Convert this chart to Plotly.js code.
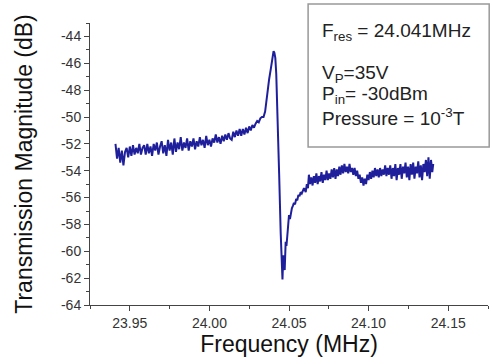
<!DOCTYPE html>
<html>
<head>
<meta charset="utf-8">
<script src="https://cdn.plot.ly/plotly-3.0.1.min.js"></script>
<style>html,body{margin:0;padding:0;background:#fff;}#plot{width:492px;height:364px;}</style>
</head>
<body>
<div id="plot"></div>
<script>
// Left baseline (below resonance)
var freqLeft = [23.941,23.942,23.943,23.944,23.945,23.946,23.947,23.948,23.949,23.950,
  23.951,23.952,23.953,23.954,23.955,23.956,23.957,23.958,23.959,23.960,
  23.961,23.962,23.963,23.964,23.965,23.966,23.967,23.968,23.969,23.970,
  23.971,23.972,23.973,23.974,23.975,23.976,23.977,23.978,23.979,23.980,
  23.981,23.982,23.983,23.984,23.985,23.986,23.987,23.988,23.989,23.990,
  23.991,23.992,23.993,23.994,23.995,23.996,23.997,23.998,23.999,24.000,
  24.001,24.002,24.003,24.004,24.005,24.006,24.007,24.008,24.009,24.010,
  24.011,24.012,24.013,24.014,24.015,24.016,24.017,24.018,24.019,24.020,
  24.021,24.022,24.023,24.024,24.025,24.026,24.027,24.028,24.029,24.030,
  24.031,24.032,24.033];
var magLeft = [-52.0,-53.1,-52.3,-53.4,-52.5,-53.6,-52.6,-52.3,-53.0,-52.2,
  -52.9,-52.1,-52.8,-52.3,-52.7,-52.0,-52.8,-52.3,-52.1,-52.8,
  -52.0,-52.7,-52.2,-52.9,-52.0,-52.5,-51.9,-52.8,-52.2,-51.8,
  -52.7,-52.1,-52.9,-51.7,-52.5,-51.9,-52.8,-51.6,-52.6,-51.9,
  -52.4,-51.5,-52.5,-51.9,-52.3,-51.6,-52.5,-51.8,-52.2,-51.6,
  -52.4,-51.8,-52.2,-51.5,-52.1,-51.7,-52.3,-51.4,-52.1,-51.7,
  -52.2,-51.6,-51.9,-51.3,-51.9,-51.5,-52.0,-51.4,-51.8,-51.3,
  -51.7,-51.2,-51.6,-51.7,-51.1,-51.5,-51.0,-51.4,-50.9,-51.4,
  -50.9,-51.3,-50.8,-51.2,-50.7,-51.0,-50.6,-50.8,-50.5,-50.3,
  -50.4,-50.1,-50.0];
// Resonance region
var freqRes = [24.0340,24.0350,24.0358,24.0365,24.0375,24.0386,24.0396,24.0403,24.0408,24.0414,
  24.0420,24.0427,24.0438,24.0448,24.0456,24.0459,24.0464,24.0469,24.0473,24.0479,
  24.0484,24.0489,24.0495,24.0500,24.0506,24.0511,24.0518,24.0525,24.0531,24.0538,
  24.0545,24.0552,24.0559,24.0566,24.0573,24.0580,24.0587,24.0594];
var magRes = [-50.0,-49.6,-48.8,-47.9,-47.2,-46.4,-45.5,-45.1,-45.2,-45.6,
  -46.8,-49.3,-54.2,-58.7,-61.5,-62.1,-60.3,-61.0,-61.4,-59.3,
  -59.6,-58.9,-58.2,-57.3,-57.6,-57.2,-56.8,-56.6,-56.4,-56.5,
  -56.1,-56.2,-55.8,-55.9,-55.6,-55.7,-55.4,-55.3];
// Right baseline (above resonance)
var freqRight = [24.0605,24.0612,24.0619,24.0625,24.0632,24.0640,24.0648,24.0656,24.0664,24.0672,
  24.0680,24.0688,24.0696,24.0704,24.0712,24.0720,24.0728,24.0736,24.0744,24.0752,
  24.0760,24.0768,24.0776,24.0784,24.0792,24.0800,24.0808,24.0816,24.0824,24.0832,
  24.0840,24.0848,24.0856,24.0864,24.0872,24.0880,24.0888,24.0896,24.0904,24.0912,
  24.0920,24.0928,24.0936,24.0944,24.0952,24.0960,24.0968,24.0976,24.0984,24.0992,
  24.1000,24.1008,24.1016,24.1024,24.1032,24.1040,24.1048,24.1056,24.1064,24.1072,
  24.1080,24.1088,24.1096,24.1104,24.1112,24.1120,24.1128,24.1136,24.1144,24.1152,
  24.1160,24.1168,24.1176,24.1184,24.1192,24.1200,24.1208,24.1216,24.1224,24.1232,
  24.1240,24.1248,24.1256,24.1264,24.1272,24.1280,24.1288,24.1296,24.1304,24.1312,
  24.1320,24.1328,24.1336,24.1344,24.1352,24.1360,24.1368,24.1376,24.1384,24.1392,
  24.1400,24.1406];
var magRight = [-55.6,-55.0,-55.3,-54.3,-55.0,-54.5,-55.1,-54.4,-54.9,-54.2,
  -55.0,-54.4,-54.8,-54.1,-54.9,-54.3,-54.7,-54.0,-54.7,-54.2,
  -54.6,-53.9,-54.5,-53.8,-54.6,-53.9,-54.4,-53.7,-54.3,-53.6,
  -54.2,-53.5,-54.1,-53.7,-54.2,-53.5,-54.1,-53.8,-54.3,-53.8,
  -54.4,-54.0,-54.6,-54.3,-54.9,-54.5,-55.1,-54.6,-55.0,-54.3,
  -54.7,-54.1,-54.6,-54.0,-54.5,-53.8,-54.4,-53.9,-54.5,-53.8,
  -54.4,-53.9,-54.3,-53.6,-54.4,-53.8,-54.3,-53.6,-54.6,-53.8,
  -54.4,-53.5,-54.7,-53.8,-54.3,-53.5,-54.6,-53.7,-54.2,-53.4,
  -54.5,-53.7,-54.7,-53.5,-54.3,-53.4,-54.6,-53.7,-54.2,-53.3,
  -54.5,-53.6,-54.7,-53.5,-54.1,-53.2,-54.4,-53.0,-54.6,-53.2,
  -54.1,-53.5];

var xTickVals = [23.95, 24.00, 24.05, 24.10, 24.15];
var xTickLabels = ['23.95', '24.00', '24.05', '24.10', '24.15'];
var yTickVals = [-64, -62, -60, -58, -56, -54, -52, -50, -48, -46, -44];
var yTickLabels = ['-64', '-62', '-60', '-58', '-56', '-54', '-52', '-50', '-48', '-46', '-44'];
var infoLines = ['F<sub>res</sub> = 24.041MHz', 'V<sub>P</sub>=35V', 'P<sub>in</sub>= -30dBm', 'Pressure = 10<sup>-3</sup>T'];

var freq = freqLeft.concat(freqRes, freqRight);
var mag = magLeft.concat(magRes, magRight);

var FONT = 'Liberation Sans, Arial, Helvetica, sans-serif';

var trace = {
  x: freq, y: mag, type: 'scatter', mode: 'lines',
  line: {color: '#1f1f9c', width: 2}, hoverinfo: 'skip'
};

var infoY = [0.969, 0.820, 0.745, 0.666];
var annotations = infoLines.map(function (t, i) {
  return {
    text: t, xref: 'paper', yref: 'paper', x: 0.578, y: infoY[i],
    xanchor: 'left', yanchor: 'middle', showarrow: false,
    font: {family: FONT, size: 19, color: '#222'}
  };
});

var layout = {
  width: 492, height: 364,
  margin: {l: 90, r: 4, t: 23, b: 59, pad: 0},
  paper_bgcolor: '#fff', plot_bgcolor: '#fff',
  showlegend: false,
  font: {family: FONT, color: '#222'},
  xaxis: {
    range: [23.925, 24.175], tickvals: xTickVals, ticktext: xTickLabels,
    ticks: 'outside', ticklen: 5, tickwidth: 1, tickcolor: '#444',
    showline: true, linecolor: '#444', linewidth: 1, mirror: false,
    showgrid: false, zeroline: false,
    tickfont: {family: FONT, size: 14, color: '#333'},
    minor: {ticks: 'outside', ticklen: 3, tickcolor: '#444', tickvals: [23.925, 23.975, 24.025, 24.075, 24.125, 24.175], showgrid: false},
    title: {text: 'Frequency (MHz)', font: {family: FONT, size: 23, color: '#111'}, standoff: 5}
  },
  yaxis: {
    range: [-64, -43], tickvals: yTickVals, ticktext: yTickLabels,
    ticks: 'outside', ticklen: 5, tickwidth: 1, tickcolor: '#444',
    showline: true, linecolor: '#444', linewidth: 1, mirror: false,
    showgrid: false, zeroline: false,
    tickfont: {family: FONT, size: 14, color: '#333'},
    minor: {ticks: 'outside', ticklen: 3, tickcolor: '#444', dtick: 1, tick0: -63, showgrid: false},
    title: {text: 'Transmission Magnitude (dB)', font: {family: FONT, size: 23, color: '#111'}, standoff: 21}
  },
  shapes: [{
    type: 'rect', xref: 'paper', yref: 'paper',
    x0: 0.548, x1: 1.003, y0: 0.560, y1: 1.067,
    line: {color: '#999', width: 1.5}, fillcolor: 'rgba(0,0,0,0)'
  }],
  annotations: annotations
};

Plotly.newPlot('plot', [trace], layout, {staticPlot: true, displayModeBar: false});
</script>
</body>
</html>
